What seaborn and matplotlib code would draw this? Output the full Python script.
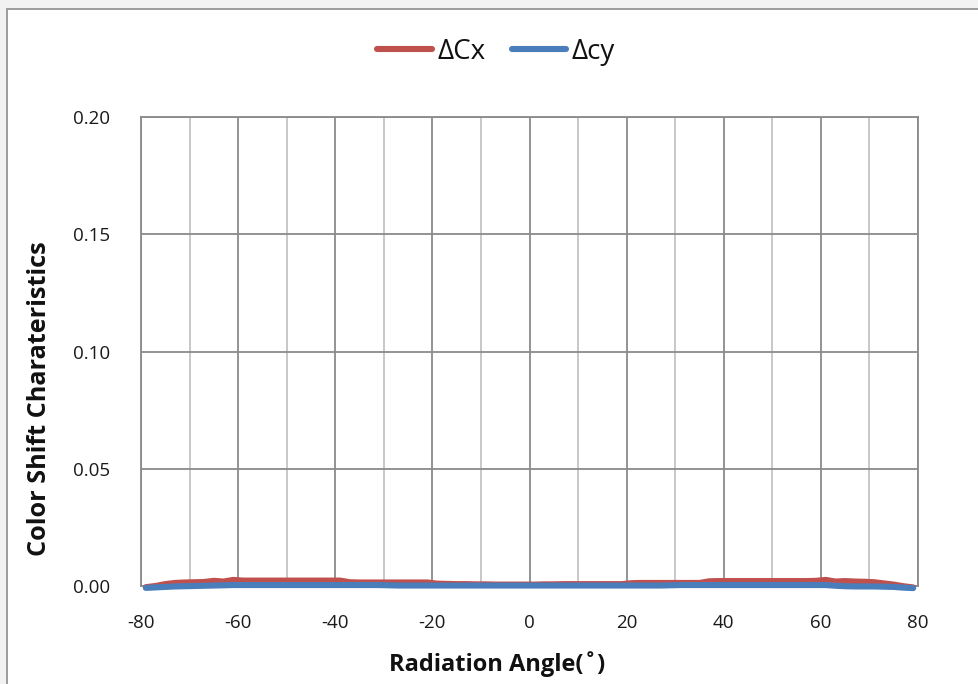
import matplotlib
matplotlib.use("Agg")
import matplotlib.pyplot as plt
from matplotlib.patches import Rectangle
from matplotlib.lines import Line2D
import seaborn as sns
import pandas as pd

# Radiation angle (degrees) and the two colour-shift components
angles = [-79, -77, -75, -73, -71, -69, -67, -65, -63, -61, -59, -57, -55, -53,
          -51, -49, -47, -45, -43, -41, -39, -37, -35, -33, -31, -29, -27, -25,
          -23, -21, -19, -17, -15, -13, -11, -9, -7, -5, -3, -1, 1, 3, 5, 7, 9,
          11, 13, 15, 17, 19, 21, 23, 25, 27, 29, 31, 33, 35, 37, 39, 41, 43, 45,
          47, 49, 51, 53, 55, 57, 59, 61, 63, 65, 67, 69, 71, 73, 75, 77, 79]

delta_cx = [-0.0005, 0.0000, 0.0008, 0.0013, 0.0015, 0.0016, 0.0017, 0.0022,
            0.0019, 0.0026, 0.0023, 0.0023, 0.0023, 0.0023, 0.0023, 0.0023,
            0.0023, 0.0023, 0.0023, 0.0023, 0.0023, 0.0016, 0.0015, 0.0015,
            0.0015, 0.0015, 0.0015, 0.0015, 0.0015, 0.0015, 0.0010, 0.0009,
            0.0008, 0.0008, 0.0007, 0.0007, 0.0006, 0.0006, 0.0006, 0.0006,
            0.0006, 0.0007, 0.0007, 0.0008, 0.0008, 0.0008, 0.0008, 0.0008,
            0.0008, 0.0008, 0.0012, 0.0013, 0.0013, 0.0013, 0.0013, 0.0013,
            0.0013, 0.0013, 0.0020, 0.0021, 0.0021, 0.0021, 0.0021, 0.0021,
            0.0021, 0.0021, 0.0021, 0.0021, 0.0021, 0.0022, 0.0026, 0.0019,
            0.0021, 0.0019, 0.0018, 0.0016, 0.0011, 0.0006, -0.0001, -0.0006]

delta_cy = [-0.0008, -0.0006, -0.0004, -0.0002, -0.0001, 0.0000, 0.0001, 0.0002,
            0.0003, 0.0004, 0.0004, 0.0004, 0.0004, 0.0004, 0.0004, 0.0004,
            0.0004, 0.0004, 0.0004, 0.0004, 0.0004, 0.0004, 0.0004, 0.0004,
            0.0004, 0.0003, 0.0002, 0.0002, 0.0002, 0.0002, 0.0002, 0.0002,
            0.0002, 0.0002, 0.0002, 0.0002, 0.0002, 0.0002, 0.0002, 0.0002,
            0.0002, 0.0002, 0.0002, 0.0002, 0.0002, 0.0002, 0.0002, 0.0002,
            0.0002, 0.0002, 0.0002, 0.0002, 0.0002, 0.0002, 0.0003, 0.0004,
            0.0004, 0.0004, 0.0004, 0.0004, 0.0004, 0.0004, 0.0004, 0.0004,
            0.0004, 0.0004, 0.0004, 0.0004, 0.0004, 0.0004, 0.0004, 0.0001,
            -0.0001, -0.0002, -0.0002, -0.0002, -0.0003, -0.0004, -0.0007, -0.0009]

x_ticks = [-80, -60, -40, -20, 0, 20, 40, 60, 80]
y_ticks = [0.00, 0.05, 0.10, 0.15, 0.20]

df = pd.DataFrame({
    "angle": angles * 2,
    "value": delta_cx + delta_cy,
    "series": ["\u0394Cx"] * len(angles) + ["\u0394cy"] * len(angles),
})

sns.set_theme(style="white")
plt.rcParams["font.family"] = ["Open Sans", "DejaVu Sans"]

fig = plt.figure(figsize=(9.79, 6.84), dpi=100)
fig.patch.set_facecolor("#f2f2f3")
# white chart area with a thin grey frame, kept behind the axes
fig.patches.append(Rectangle((7 / 979, -0.01), 1.0, 1 - 8.5 / 684 + 0.01,
                             transform=fig.transFigure, facecolor="white",
                             edgecolor="#8c8c8c", linewidth=1.2, zorder=-5))

ax = fig.add_axes([141 / 979, 1 - 586 / 684, (918 - 141) / 979, (586 - 117) / 684])
ax.set_zorder(2)
ax.set_facecolor("white")

palette = {"\u0394Cx": "#c0504d", "\u0394cy": "#4a7ebb"}
sns.lineplot(data=df, x="angle", y="value", hue="series", palette=palette,
             hue_order=["\u0394Cx", "\u0394cy"], linewidth=4.4, ax=ax,
             legend=False, clip_on=False)
for line in ax.get_lines():
    line.set_zorder(4)

ax.set_xlim(-80, 80)
ax.set_ylim(0, 0.20)
ax.set_xticks(x_ticks)
ax.set_xticks(range(-70, 80, 20), minor=True)
ax.set_yticks(y_ticks)
ax.set_xticklabels([str(t) for t in x_ticks], fontsize=13.5, color="#1a1a1a")
ax.set_yticklabels([f"{t:.2f}" for t in y_ticks], fontsize=13.5, color="#1a1a1a")
ax.tick_params(axis="both", which="both", length=0)
ax.tick_params(axis="x", pad=20)
ax.tick_params(axis="y", pad=22)

ax.grid(True, which="major", color="#8a8a8a", linewidth=1.3)
ax.grid(True, which="minor", axis="x", color="#c4c4c4", linewidth=1.3)
ax.set_axisbelow(True)
for sp in ax.spines.values():
    sp.set_visible(True)
    sp.set_color("#8a8a8a")
    sp.set_linewidth(1.3)

ax.set_xlabel("Radiation Angle(\u02da)", fontsize=17, fontweight="bold",
              color="#111111")
ax.xaxis.set_label_coords((497 - 141) / (918 - 141), -(651 - 586) / (586 - 117))
ax.set_ylabel("Color Shift Charateristics", fontsize=18.2, fontweight="bold",
              color="#111111")
ax.yaxis.set_label_coords(-(141 - 52) / (918 - 141), (586 - 399) / (586 - 117))

handles = [Line2D([], [], color=palette["\u0394Cx"], linewidth=4.4, solid_capstyle="round"),
           Line2D([], [], color=palette["\u0394cy"], linewidth=4.4, solid_capstyle="round")]
fig.legend(handles, ["\u0394Cx", "\u0394cy"], loc="center",
           bbox_to_anchor=(496 / 979, 1 - 52 / 684), ncol=2, frameon=False,
           fontsize=20, handlelength=1.95, handletextpad=0.2, columnspacing=0.95,
           labelcolor="#111111")

fig.savefig("out.png", dpi=100, facecolor=fig.get_facecolor())
